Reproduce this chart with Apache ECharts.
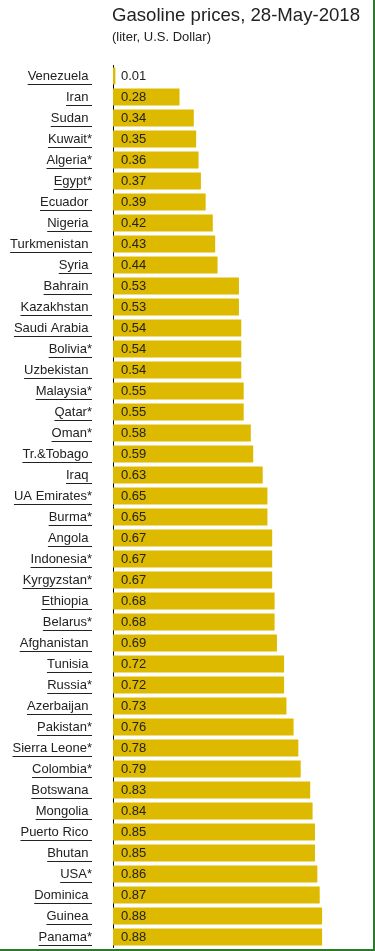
<!DOCTYPE html>
<html>
<head>
<meta charset="utf-8">
<script src="https://cdn.jsdelivr.net/npm/echarts@6/dist/echarts.min.js"></script>
<style>
html,body{margin:0;padding:0;background:#fff;}
#wrap{width:373px;height:949px;border-right:2px solid #2a7a2a;border-bottom:2px solid #2a7a2a;}
#chart{width:373px;height:949px;}
</style>
</head>
<body>
<div id="wrap"><div id="chart"></div></div>
<script>
const titleText = 'Gasoline prices, 28-May-2018';
const subtitleText = '(liter, U.S. Dollar)';
const countries = ['Venezuela','Iran','Sudan','Kuwait*','Algeria*','Egypt*','Ecuador','Nigeria','Turkmenistan','Syria','Bahrain','Kazakhstan','Saudi Arabia','Bolivia*','Uzbekistan','Malaysia*','Qatar*','Oman*','Tr.&Tobago','Iraq','UA Emirates*','Burma*','Angola','Indonesia*','Kyrgyzstan*','Ethiopia','Belarus*','Afghanistan','Tunisia','Russia*','Azerbaijan','Pakistan*','Sierra Leone*','Colombia*','Botswana','Mongolia','Puerto Rico','Bhutan','USA*','Dominica','Guinea','Panama*'];
const prices = [0.01,0.28,0.34,0.35,0.36,0.37,0.39,0.42,0.43,0.44,0.53,0.53,0.54,0.54,0.54,0.55,0.55,0.58,0.59,0.63,0.65,0.65,0.67,0.67,0.67,0.68,0.68,0.69,0.72,0.72,0.73,0.76,0.78,0.79,0.83,0.84,0.85,0.85,0.86,0.87,0.88,0.88];

const FONT = 'Liberation Sans, Arial, sans-serif';
const chart = echarts.init(document.getElementById('chart'), null, {renderer:'canvas'});
function labelText(n){ return n.endsWith('*') ? n : n + ' '; }
const LABEL_MARGIN = 21;
chart.setOption({
  animation:false,
  title:{
    text:titleText, subtext:subtitleText, left:112, top:6, padding:0, itemGap:6,
    textStyle:{fontFamily:FONT,fontSize:18.6,fontWeight:'normal',color:'#222'},
    subtextStyle:{fontFamily:FONT,fontSize:13,color:'#222'}
  },
  grid:{left:113, right:22.4, top:65.5, bottom:1.5, containLabel:false},
  xAxis:{type:'value', min:0, max:1, show:false, splitLine:{show:false}},
  yAxis:{
    type:'category', data:countries, inverse:true,
    axisLine:{show:true, lineStyle:{color:'#000', width:1}},
    axisTick:{show:false},
    axisLabel:{margin:LABEL_MARGIN, fontFamily:FONT, fontSize:13, color:'#222', formatter:labelText}
  },
  series:[{
    type:'bar', data:prices, barCategoryGap:'19%',
    itemStyle:{color:'#DDB900'},
    label:{show:true, position:'insideLeft', distance:8, fontFamily:FONT, fontSize:13, color:'#222',
      formatter:p=>p.value.toFixed(2)}
  }]
});

// underlines for the link-style category labels
const ctx = document.createElement('canvas').getContext('2d');
ctx.font = '13px ' + FONT;
const axisX = chart.convertToPixel({xAxisIndex:0}, 0);
const rightEdge = axisX - LABEL_MARGIN;
const lines = countries.map(n=>{
  const y = chart.convertToPixel({yAxisIndex:0}, n);
  const w = ctx.measureText(labelText(n)).width;
  const yy = Math.round(y + 8) + 0.5;
  return {type:'line', silent:true, shape:{x1:rightEdge - w, y1:yy, x2:rightEdge, y2:yy}, style:{stroke:'#222', lineWidth:1}};
});
chart.setOption({graphic:lines});
</script>
</body>
</html>
